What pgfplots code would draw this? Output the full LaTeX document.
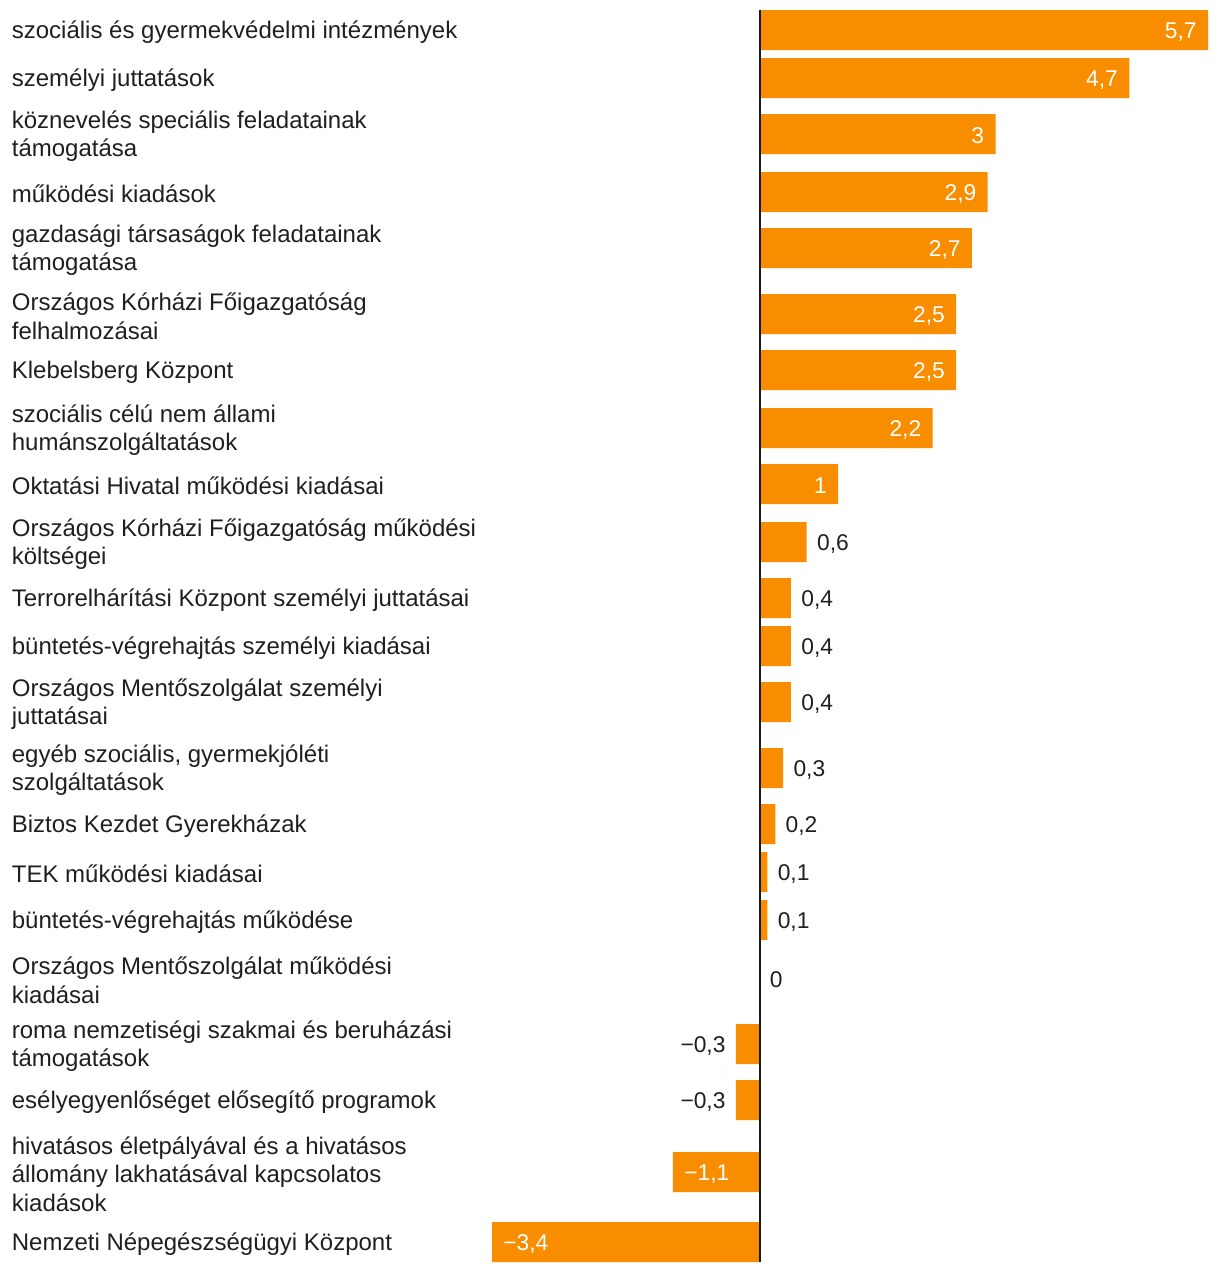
\documentclass[border=0pt]{standalone}
\usepackage{fontspec}
\setmainfont{Liberation Sans}
\usepackage{pgfplots}
\pgfplotsset{compat=1.18}
\definecolor{barc}{HTML}{F98D00}
\newcommand{\lf}{\fontsize{12}{14.3}\selectfont}
\newcommand{\vf}{\fontsize{11.4}{14}\selectfont}
\begin{document}
\begin{tikzpicture}
\path (0,0) rectangle (610pt,-637pt);
\begin{axis}[
 at={(246pt,-631pt)}, anchor=south west,
 scale only axis, width=358pt, height=626pt,
 xmin=-3.4, xmax=5.7, ymin=-1262, ymax=-10,
 xbar, bar width=40, bar shift=0pt,
 axis line style={draw=none}, major tick style={draw=none},
 xtick=\empty,
 ytick={-30,-78,-134,-192,-248,-314,-370,-428,-484,-542,-598,-646,-702,-768,-824,-872,-920,-978,-1044,-1100,-1172,-1242},
 yticklabels={
 {szociális és gyermekvédelmi intézmények},
 {személyi juttatások},
 {köznevelés speciális feladatainak\\támogatása},
 {működési kiadások},
 {gazdasági társaságok feladatainak\\támogatása},
 {Országos Kórházi Főigazgatóság\\felhalmozásai},
 {Klebelsberg Központ},
 {szociális célú nem állami\\humánszolgáltatások},
 {Oktatási Hivatal működési kiadásai},
 {Országos Kórházi Főigazgatóság működési\\költségei},
 {Terrorelhárítási Központ személyi juttatásai},
 {büntetés-végrehajtás személyi kiadásai},
 {Országos Mentőszolgálat személyi\\juttatásai},
 {egyéb szociális, gyermekjóléti\\szolgáltatások},
 {Biztos Kezdet Gyerekházak},
 {TEK működési kiadásai},
 {büntetés-végrehajtás működése},
 {Országos Mentőszolgálat működési\\kiadásai},
 {roma nemzetiségi szakmai és beruházási\\támogatások},
 {esélyegyenlőséget elősegítő programok},
 {hivatásos életpályával és a hivatásos\\állomány lakhatásával kapcsolatos\\kiadások},
 {Nemzeti Népegészségügyi Központ}},
 yticklabel style={anchor=west, align=left, inner sep=0pt, xshift=-236pt, yshift=-1pt, font=\lf, text=black!88},
 clip=false,
 point meta=explicit symbolic,
 nodes near coords,
]
\addplot[fill=barc, draw=none, nodes near coords style={anchor=east, inner sep=0pt, xshift=-5.5pt, yshift=-1pt, text=white, font=\vf}]
 coordinates {(5.7,-30)[5,7] (4.7,-78)[4,7] (3,-134)[3] (2.9,-192)[2,9] (2.7,-248)[2,7] (2.5,-314)[2,5] (2.5,-370)[2,5] (2.2,-428)[2,2] (1,-484)[1]};
\addplot[fill=barc, draw=none, nodes near coords style={anchor=west, inner sep=0pt, xshift=5pt, yshift=-1pt, text=black!88, font=\vf}]
 coordinates {(0.6,-542)[0,6] (0.4,-598)[0,4] (0.4,-646)[0,4] (0.4,-702)[0,4] (0.3,-768)[0,3] (0.2,-824)[0,2] (0.1,-872)[0,1] (0.1,-920)[0,1] (0,-978)[0]};
\addplot[fill=barc, draw=none, nodes near coords style={anchor=east, inner sep=0pt, xshift=-5pt, yshift=-1pt, text=black!88, font=\vf}]
 coordinates {(-0.3,-1044)[−0,3] (-0.3,-1100)[−0,3]};
\addplot[fill=barc, draw=none, nodes near coords style={anchor=west, inner sep=0pt, xshift=5.5pt, yshift=-1pt, text=white, font=\vf}]
 coordinates {(-1.1,-1172)[−1,1] (-3.4,-1242)[−3,4]};
\draw[line width=1pt, black!90] (axis cs:0,-10) -- (axis cs:0,-1262);
\end{axis}
\end{tikzpicture}
\end{document}
